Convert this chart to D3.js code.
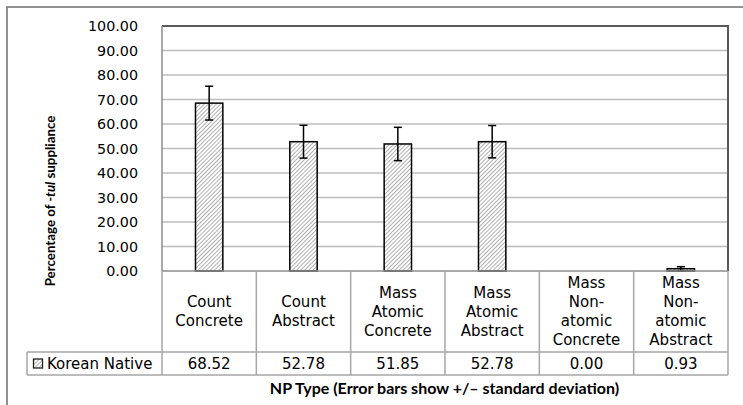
<!DOCTYPE html>
<html>
<head>
<meta charset="utf-8">
<script src="https://cdn.jsdelivr.net/npm/d3@7"></script>
<style>
  body { margin: 0; background: #fff; }
  svg { display: block; }
</style>
</head>
<body>
<div id="chart"></div>
<script>
// chart data
const categories = ["Count Concrete", "Count Abstract", "Mass Atomic Concrete",
  "Mass Atomic Abstract", "Mass Non-atomic Concrete", "Mass Non-atomic Abstract"];
const categoryLines = [
  ["Count", "Concrete"],
  ["Count", "Abstract"],
  ["Mass", "Atomic", "Concrete"],
  ["Mass", "Atomic", "Abstract"],
  ["Mass", "Non-", "atomic", "Concrete"],
  ["Mass", "Non-", "atomic", "Abstract"]
];
const values = [68.52, 52.78, 51.85, 52.78, 0.00, 0.93];
const sdValues = [6.9, 6.7, 6.8, 6.6, 0, 0.83];
const seriesName = "Korean Native";
const yTickValues = [0, 10, 20, 30, 40, 50, 60, 70, 80, 90, 100];

const W = 743, H = 405;
const plot = { left: 162, right: 728, top: 26, bottom: 271 };
const catRowBottom = 352, valRowBottom = 375, legendLeft = 27;

const svg = d3.select("#chart").append("svg")
  .attr("width", W).attr("height", H);

// hatch pattern
const defs = svg.append("defs");
const pat = defs.append("pattern")
  .attr("id", "hatch")
  .attr("patternUnits", "userSpaceOnUse")
  .attr("width", 2.9).attr("height", 2.9)
  .attr("patternTransform", "rotate(45)");
pat.append("rect").attr("width", 2.9).attr("height", 2.9).attr("fill", "#fff");
pat.append("line")
  .attr("x1", 0).attr("y1", 0).attr("x2", 0).attr("y2", 2.9)
  .attr("stroke", "#7a7a7a").attr("stroke-width", 1.2);

// outer chart border
svg.append("path")
  .attr("d", `M7,${H + 2} L7,7 L${W + 2},7`)
  .attr("fill", "none").attr("stroke", "#6e6e6e").attr("stroke-width", 1.5);

const y = d3.scaleLinear().domain([0, 100]).range([plot.bottom, plot.top]);
const xCol = d3.scaleBand().domain(categories).range([plot.left, plot.right]).padding(0);
const xBar = d3.scaleBand().domain(categories).range([plot.left, plot.right])
  .paddingInner(0.71).paddingOuter(0.355);

// gridlines
svg.append("g")
  .selectAll("line")
  .data(yTickValues.filter(d => d > 0 && d < 100))
  .join("line")
  .attr("x1", plot.left).attr("x2", plot.right)
  .attr("y1", d => y(d)).attr("y2", d => y(d))
  .attr("stroke", "#bdbdbd").attr("stroke-width", 1.5);

// plot frame
svg.append("line")
  .attr("x1", plot.left).attr("x2", plot.right + 1)
  .attr("y1", plot.top).attr("y2", plot.top)
  .attr("stroke", "#222").attr("stroke-width", 1.5);
svg.append("line")
  .attr("x1", plot.right).attr("x2", plot.right)
  .attr("y1", plot.top).attr("y2", plot.bottom)
  .attr("stroke", "#595959").attr("stroke-width", 2);
svg.append("line")
  .attr("x1", plot.left).attr("x2", plot.left)
  .attr("y1", plot.top).attr("y2", plot.bottom)
  .attr("stroke", "#8c8c8c").attr("stroke-width", 1.5);

// y axis labels
const yAxis = d3.axisLeft(y).tickValues(yTickValues).tickFormat(d3.format(".2f")).tickSize(0).tickPadding(0);
const yg = svg.append("g")
  .attr("transform", `translate(138,0)`)
  .call(yAxis);
yg.select(".domain").remove();
yg.selectAll("text")
  .attr("font-family", "DejaVu Sans")
  .attr("font-size", 14.3)
  .attr("fill", "#000");

// y title
svg.append("text")
  .attr("transform", `translate(50,${(112 + 290) / 2}) rotate(-90)`)
  .attr("text-anchor", "middle")
  .attr("dy", "0.35em")
  .attr("font-family", "Lato")
  .attr("font-weight", "bold")
  .attr("font-size", 13.3)
  .attr("fill", "#000")
  .call(t => {
    t.append("tspan").text("Percentage of ");
    t.append("tspan").attr("font-style", "italic").text("-tul");
    t.append("tspan").text(" suppliance");
  });

// bars
svg.append("g")
  .selectAll("rect")
  .data(values)
  .join("rect")
  .attr("x", (d, i) => xBar(categories[i]))
  .attr("width", xBar.bandwidth())
  .attr("y", d => y(d))
  .attr("height", d => y(0) - y(d))
  .attr("fill", "url(#hatch)")
  .attr("stroke", d => d > 0 ? "#000" : "none")
  .attr("stroke-width", 1.5);

// error bars
const eb = svg.append("g").attr("stroke", "#000").attr("stroke-width", 1.5);
values.forEach((v, i) => {
  const sd = sdValues[i];
  if (sd <= 0) return;
  const cx = xBar(categories[i]) + xBar.bandwidth() / 2;
  const lo = Math.max(0, v - sd), hi = v + sd;
  eb.append("line").attr("x1", cx).attr("x2", cx).attr("y1", y(lo)).attr("y2", y(hi));
  eb.append("line").attr("x1", cx - 4).attr("x2", cx + 4).attr("y1", y(hi)).attr("y2", y(hi));
  eb.append("line").attr("x1", cx - 4).attr("x2", cx + 4).attr("y1", y(lo)).attr("y2", y(lo));
});

// data table
const tbl = svg.append("g").attr("stroke", "#a6a6a6").attr("stroke-width", 1.5);
tbl.append("line").attr("x1", plot.left).attr("x2", plot.right).attr("y1", plot.bottom).attr("y2", plot.bottom)
  .attr("stroke", "#8c8c8c");
tbl.append("line").attr("x1", legendLeft).attr("x2", plot.right).attr("y1", catRowBottom).attr("y2", catRowBottom);
tbl.append("line").attr("x1", legendLeft).attr("x2", plot.right).attr("y1", valRowBottom).attr("y2", valRowBottom);
tbl.append("line").attr("x1", legendLeft).attr("x2", legendLeft).attr("y1", catRowBottom).attr("y2", valRowBottom);
tbl.selectAll(".vsep")
  .data(categories.concat(["end"]))
  .join("line")
  .attr("x1", (d, i) => i < categories.length ? xCol(d) : plot.right)
  .attr("x2", (d, i) => i < categories.length ? xCol(d) : plot.right)
  .attr("y1", plot.bottom).attr("y2", valRowBottom);

const tFont = { family: "DejaVu Sans", size: 15 };
const catG = svg.append("g")
  .attr("font-family", tFont.family).attr("font-size", tFont.size)
  .attr("fill", "#000").attr("text-anchor", "middle");
const lineH = 19;
const rowMid = (plot.bottom + catRowBottom) / 2;
categoryLines.forEach((lines, i) => {
  const cx = xCol(categories[i]) + xCol.bandwidth() / 2;
  const start = rowMid - (lines.length - 1) * lineH / 2;
  lines.forEach((ln, k) => {
    catG.append("text")
      .attr("x", cx).attr("y", start + k * lineH)
      .attr("dy", "0.35em").text(ln);
  });
});

const valMid = (catRowBottom + valRowBottom) / 2;
catG.selectAll(".val")
  .data(values)
  .join("text")
  .attr("x", (d, i) => xCol(categories[i]) + xCol.bandwidth() / 2)
  .attr("y", valMid).attr("dy", "0.35em")
  .text(d => d3.format(".2f")(d));

// legend key in table
svg.append("rect")
  .attr("x", 33.5).attr("y", valMid - 4.5)
  .attr("width", 9).attr("height", 9)
  .attr("fill", "url(#hatch)").attr("stroke", "#222").attr("stroke-width", 1.3);
svg.append("text")
  .attr("x", 47).attr("y", valMid).attr("dy", "0.35em")
  .attr("font-family", tFont.family).attr("font-size", tFont.size)
  .attr("fill", "#000")
  .text(seriesName);

// x title
svg.append("text")
  .attr("x", (252 + 637) / 2).attr("y", 388).attr("dy", "0.35em")
  .attr("text-anchor", "middle")
  .attr("font-family", "Lato").attr("font-weight", "bold").attr("font-size", 16)
  .attr("fill", "#000")
  .text("NP Type (Error bars show +/\u2013 standard deviation)");
</script>
</body>
</html>
